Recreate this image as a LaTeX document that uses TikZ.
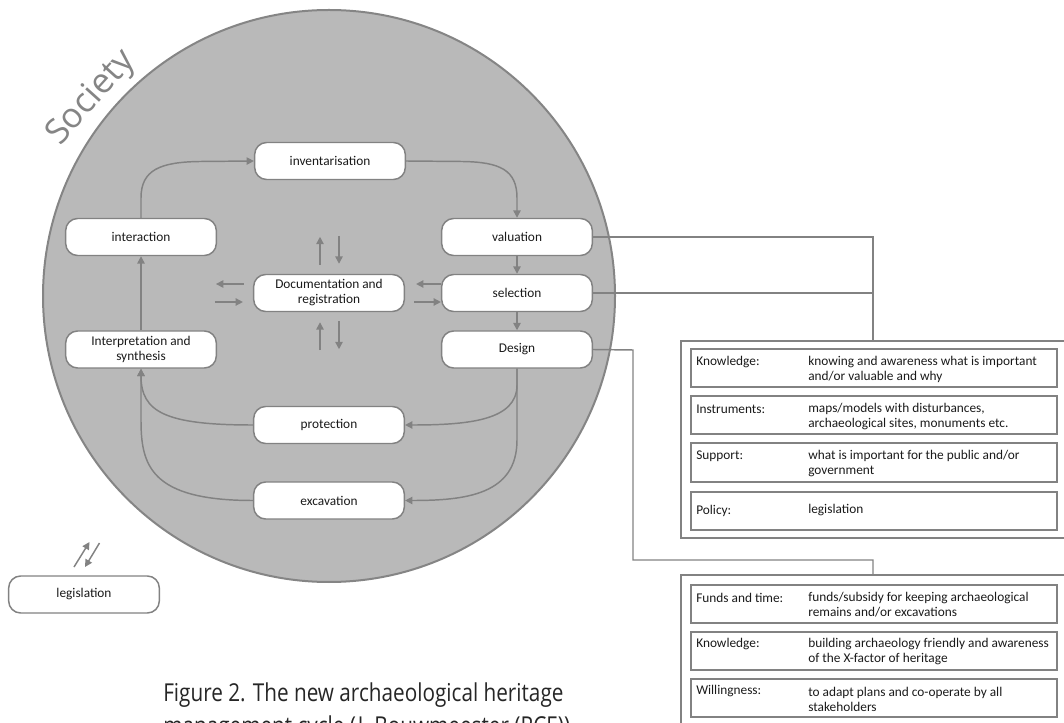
\documentclass[tikz,border=0pt]{standalone}
\usepackage{fontspec}
\setmainfont{Carlito}
\newfontfamily\capfont{Open Sans}
\usetikzlibrary{arrows.meta,calc}
\definecolor{circfill}{HTML}{B9B9B9}
\definecolor{circline}{HTML}{858585}
\definecolor{ln}{HTML}{828282}
\definecolor{txt}{HTML}{1A1A1A}
\begin{document}
\begin{tikzpicture}[x=0.75pt,y=-0.75pt,
  cbox/.style={draw=ln, line width=1.1pt, fill=white, rounded corners=9pt, minimum width=113pt, minimum height=27.75pt, inner sep=0pt, align=center, font=\fontsize{10}{11.25}\selectfont, text=txt},
  arr/.style={draw=ln, line width=1.1pt, -{Triangle[length=5.5pt,width=5.5pt]}},
  conn/.style={draw=ln, line width=1.1pt},
  panel/.style={draw=ln, line width=1.1pt, minimum width=295.5pt, inner sep=0pt},
  rowbox/.style={draw=ln, line width=1.5pt, minimum width=274.5pt, minimum height=28.5pt, inner sep=0pt},
  rtext/.style={anchor=west, align=left, inner sep=0pt, font=\fontsize{10}{11.25}\selectfont, text=txt}
]
\useasboundingbox (0,0) rectangle (1064,723);

% society circle
\node[circle, draw=circline, fill=circfill, line width=1.5pt, minimum size=429pt, inner sep=0pt] (soc) at (329,296) {};
\node[rotate=48, text=circline, font=\capfont\fontsize{26}{30}\selectfont] (soctxt) at (92,98) {Society};

% cycle boxes
\node[cbox] (inv) at (330,161) {inventarisation};
\node[cbox] (int) at (141,237) {interaction};
\node[cbox] (interp) at (141,349.5) {Interpretation and\\synthesis};
\node[cbox] (doc) at (329,293) {Documentation and\\registration};
\node[cbox] (val) at (517,237) {valuation};
\node[cbox] (sel) at (517,293) {selection};
\node[cbox] (des) at (517,349.5) {Design};
\node[cbox] (prot) at (329,425) {protection};
\node[cbox] (exc) at (329,500.5) {excavation};
\node[cbox] (leg) at (84,594.5) {legislation};

% cycle arrows
\draw[arr] (int.north) -- (141,198) .. controls (141,170) and (160,162) .. (200,161.5) -- (inv.west);
\draw[arr] (inv.east) -- (462,161.5) .. controls (500,162) and (517,170) .. (517,198) -- (val.north);
\draw[arr] (val.south) -- (sel.north);
\draw[arr] (sel.south) -- (des.north);
\draw[arr] (des.south) -- (517,385) .. controls (517,420) and (470,425) .. (prot.east);
\draw[arr] (des.south) -- (517,440) .. controls (517,495) and (465,500.5) .. (exc.east);
\draw[arr] (prot.west) .. controls (165,425) and (141,412) .. (interp.south);
\draw[arr] (exc.west) .. controls (150,500.5) and (141,465) .. (141,420) -- (interp.south);
\draw[arr] (interp.north) -- (int.south);

% documentation arrows
\coordinate (a1s) at ($(doc.north)+(-9,-9)$);
\coordinate (a1e) at ($(doc.north)+(-9,-37)$);
\coordinate (a2s) at ($(doc.north)+(10,-38)$);
\coordinate (a2e) at ($(doc.north)+(10,-10)$);
\coordinate (a3s) at ($(doc.south)+(-9,38)$);
\coordinate (a3e) at ($(doc.south)+(-9,10)$);
\coordinate (a4s) at ($(doc.south)+(10,9)$);
\coordinate (a4e) at ($(doc.south)+(10,37)$);
\coordinate (a5s) at ($(doc.west)+(-9,-9)$);
\coordinate (a5e) at ($(doc.west)+(-37,-9)$);
\coordinate (a6s) at ($(doc.west)+(-38,9)$);
\coordinate (a6e) at ($(doc.west)+(-10,9)$);
\coordinate (a7e) at ($(doc.east)+(11,-9)$);
\coordinate (a8s) at ($(doc.east)+(9,9)$);
\draw[arr] (a1s) -- (a1e);
\draw[arr] (a2s) -- (a2e);
\draw[arr] (a3s) -- (a3e);
\draw[arr] (a4s) -- (a4e);
\draw[arr] (a5s) -- (a5e);
\draw[arr] (a6s) -- (a6e);
\draw[arr] ($(sel.west)+(0,-9)$) -- (a7e);
\draw[arr] (a8s) -- ($(sel.west)+(0,9)$);

% legislation arrows
\coordinate (l1s) at (74,567);
\coordinate (l1e) at (89.5,542);
\coordinate (l2s) at (99.5,543);
\coordinate (l2e) at (85,567);
\draw[arr] (l1s) -- (l1e);
\draw[arr] (l2s) -- (l2e);

% right panels
\node[panel, minimum height=147.75pt] (pA) at (878,439.5) {};
\node[panel, minimum height=138.75pt] (pB) at (878,667.5) {};
\coordinate (jA) at (873,341);
\coordinate (jB) at (873,575);
\draw[conn] (val.east) -| (jA);
\draw[conn] (sel.east) -- (sel.east -| jA);
\draw[conn] (des.east) -- (633,350) -- (633,560) -- (873,560) -- (jB);

\node[rowbox] (r1) at (874,368) {};
\node[rowbox] (r2) at (874,415.5) {};
\node[rowbox] (r3) at (874,462.5) {};
\node[rowbox] (r4) at (874,510.5) {};
\node[rowbox] (r5) at (874,604) {};
\node[rowbox] (r6) at (874,651) {};
\node[rowbox] (r7) at (874,698) {};

\node[rtext] (k1) at (696,362) {Knowledge:};
\node[rtext] (v1) at (808,369.5) {knowing and awareness what is important\\and/or valuable and why};
\node[rtext] (k2) at (696,409) {Instruments:};
\node[rtext] (v2) at (808,416.5) {maps/models with disturbances,\\archaeological sites, monuments etc.};
\node[rtext] (k3) at (696,456) {Support:};
\node[rtext] (v3) at (808,463.5) {what is important for the public and/or\\government};
\node[rtext] (k4) at (696,510.5) {Policy:};
\node[rtext] (v4) at (808,510.5) {legislation};
\node[rtext] (k5) at (696,597.5) {Funds and time:};
\node[rtext] (v5) at (808,605) {funds/subsidy for keeping archaeological\\remains and/or excavations};
\node[rtext] (k6) at (696,644.5) {Knowledge:};
\node[rtext] (v6) at (808,652) {building archaeology friendly and awareness\\of the X-factor of heritage};
\node[rtext] (k7) at (696,691.5) {Willingness:};
\node[rtext] (v7) at (808,699) {to adapt plans and co-operate by all\\stakeholders};

% caption
\node[anchor=base west, inner sep=0pt, align=left, text=black!85, font=\capfont\fontsize{18.5}{24.75}\selectfont] (cap) at (163,734)
  {\scalebox{0.84}[1]{Figure 2. The new archaeological heritage}\\\scalebox{0.84}[1]{management cycle (J. Bouwmeester (RCE))}};
\end{tikzpicture}
\end{document}
